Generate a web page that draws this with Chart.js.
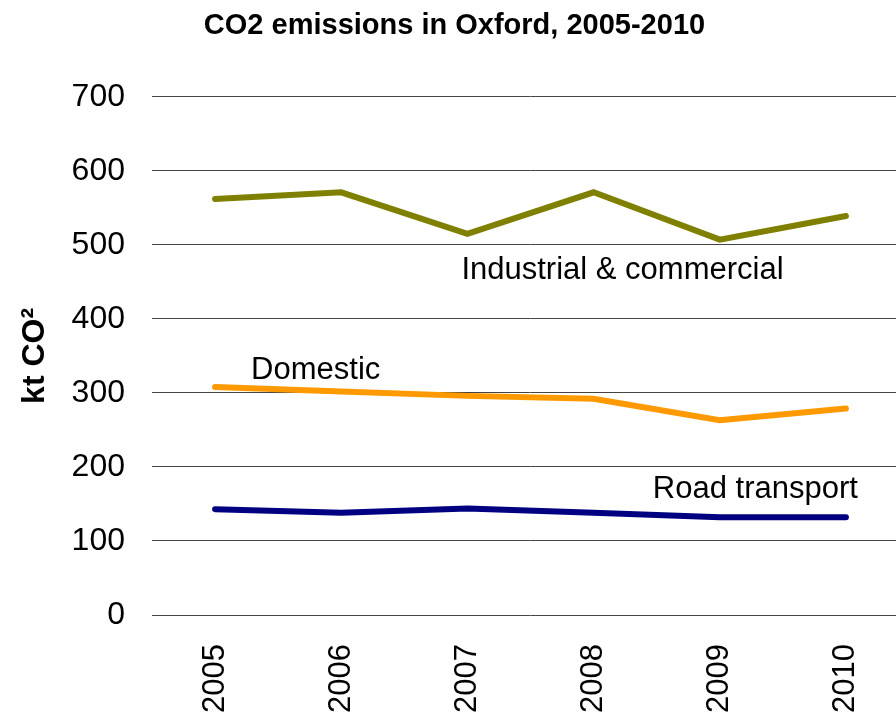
<!DOCTYPE html>
<html lang="en">
<head>
  <meta charset="UTF-8" />
  <title>CO2 emissions in Oxford</title>
  <script src="https://cdn.jsdelivr.net/npm/chart.js"></script>
  <style>
    html, body { margin: 0; padding: 0; background: #fff; overflow: hidden; }
    #wrap { width: 920px; height: 714px; }
  </style>
</head>
<body>
  <div id="wrap"><canvas id="co2Chart"></canvas></div>

  <script>
    const years = ["2005", "2006", "2007", "2008", "2009", "2010"];
    const industrial = [562, 571, 515, 571, 507, 539];
    const domestic = [308, 302, 296, 292, 263, 279];
    const road = [143, 138, 144, 138, 132, 132];
    const yTicks = [0, 100, 200, 300, 400, 500, 600, 700];

    const FONT = "'Liberation Sans', Arial, sans-serif";

    // series names written next to the lines: [text, category index, value, pixel shift, align]
    const seriesLabels = [
      ["Industrial & commercial", 2, 466, -6, "left"],
      ["Domestic", 0, 331, 36, "left"],
      ["Road transport", 5, 169, 12, "right"]
    ];

    const lineLabels = {
      id: "lineLabels",
      afterDatasetsDraw(chart) {
        const { ctx, scales: { x, y } } = chart;
        ctx.save();
        ctx.font = "31px " + FONT;
        ctx.fillStyle = "#000";
        ctx.textBaseline = "middle";
        seriesLabels.forEach(([text, idx, val, shift, align]) => {
          ctx.textAlign = align;
          ctx.fillText(text, x.getPixelForValue(idx) + shift, y.getPixelForValue(val));
        });
        ctx.restore();
      }
    };

    new Chart(document.getElementById("co2Chart"), {
      type: "line",
      data: {
        labels: years,
        datasets: [
          { label: "Industrial & commercial", data: industrial, borderColor: "#808000" },
          { label: "Domestic", data: domestic, borderColor: "#FF9900" },
          { label: "Road transport", data: road, borderColor: "#000080" }
        ]
      },
      options: {
        responsive: true,
        maintainAspectRatio: false,
        animation: false,
        layout: { padding: { left: 0, right: 11, top: 0, bottom: 0 } },
        elements: {
          line: { borderWidth: 6, tension: 0, borderCapStyle: "round", borderJoinStyle: "miter" },
          point: { radius: 0, hoverRadius: 0 }
        },
        plugins: {
          legend: { display: false },
          tooltip: { enabled: false },
          title: {
            display: true,
            text: "CO2 emissions in Oxford, 2005-2010",
            color: "#000",
            font: { family: FONT, size: 29, weight: "bold" },
            padding: { top: 9, bottom: 53 }
          }
        },
        scales: {
          x: {
            offset: true,
            grid: { display: false },
            border: { display: false },
            ticks: {
              color: "#000",
              font: { family: FONT, size: 31 },
              minRotation: 90,
              maxRotation: 90,
              padding: 21
            },
            afterFit(scale) { scale.height = 99; }
          },
          y: {
            min: 0,
            max: 700,
            afterBuildTicks(scale) { scale.ticks = yTicks.map(v => ({ value: v })); },
            grid: { color: "#444", lineWidth: 1, drawTicks: false },
            border: { display: false },
            ticks: {
              color: "#000",
              font: { family: FONT, size: 32 },
              padding: 27
            },
            title: {
              display: true,
              text: "kt CO²",
              color: "#000",
              font: { family: FONT, size: 32, weight: "bold" },
              padding: { top: 16, bottom: 0 }
            },
            afterFit(scale) { scale.width = 152; }
          }
        }
      },
      plugins: [lineLabels]
    });
  </script>
</body>
</html>
